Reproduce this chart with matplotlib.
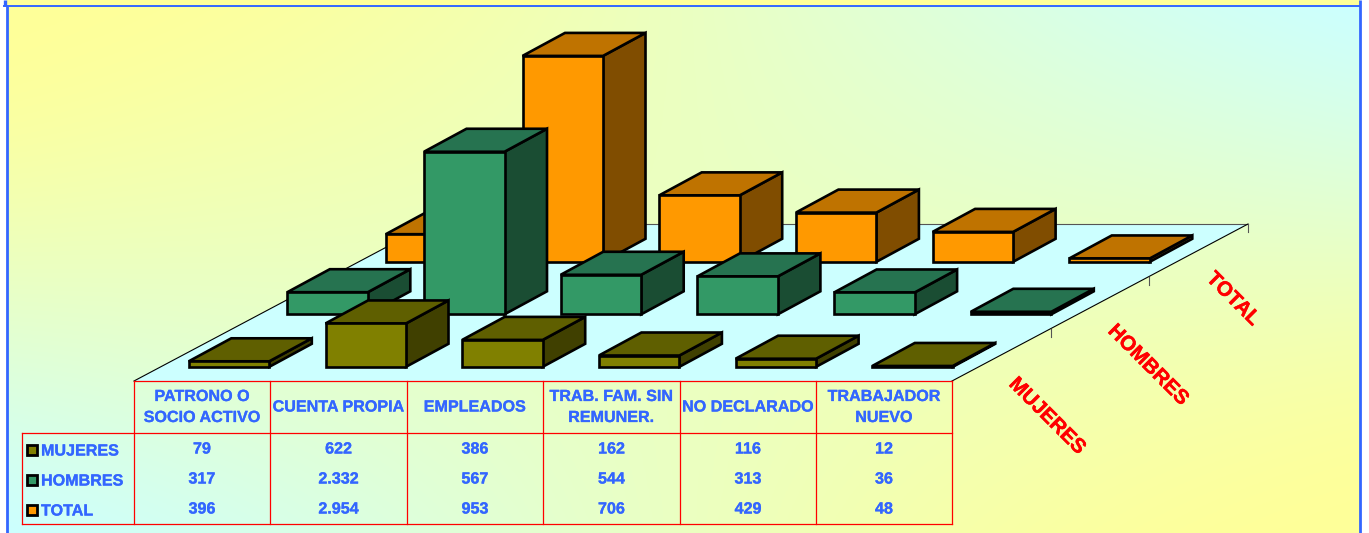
import numpy as np
from matplotlib import pyplot as plt
from matplotlib.patches import Polygon, Rectangle
import matplotlib.patheffects as pe
import matplotlib as mpl
mpl.rc('font', family='Liberation Sans', weight='bold')

# -------------------------
# data
# -------------------------
categorias = ['PATRONO O\nSOCIO ACTIVO', 'CUENTA PROPIA', 'EMPLEADOS',
              'TRAB. FAM. SIN\nREMUNER.', 'NO DECLARADO', 'TRABAJADOR\nNUEVO']
series = ['MUJERES', 'HOMBRES', 'TOTAL']
mujeres = [79, 622, 386, 162, 116, 12]
hombres = [317, 2332, 567, 544, 313, 36]
total = [396, 2954, 953, 706, 429, 48]
valores = [mujeres, hombres, total]

# front, top, side
cores = [('#808000', '#5F5F00', '#404000'),
         ('#339966', '#267350', '#1A4D33'),
         ('#FF9900', '#BF7300', '#804D00')]

AZUL = '#3366FF'
W, H = 1369, 533

fig = plt.figure(figsize=(W/100, H/100), dpi=100, facecolor='white')
ax = fig.add_axes([0, 0, 1, 1])
ax.set_xlim(0, W)
ax.set_ylim(H, 0)
ax.axis('off')

# -------------------------
# background: four corner blend
# -------------------------
x0, x1 = 7, 1360
u, v = np.meshgrid(np.linspace(0, 1, 400), np.linspace(0, 1, 300))
t = u*(1-v) + v*(1-u)
t = 0.5*t**1.8 + 0.5*t*t*(3-2*t)
amarelo = np.array([255, 255, 153])/255
ciano = np.array([204, 255, 255])/255
img = amarelo + (ciano-amarelo)*t[..., None]
ax.imshow(img, extent=(x0, x1, H, 6), aspect='auto', zorder=0)
ax.add_patch(Rectangle((x0, 0), x1-x0, 5, fc='#FFFF99', ec='none', zorder=1))
ax.plot([x0, x0], [6, H], color=AZUL, lw=2, zorder=6, solid_capstyle='butt')
ax.plot([x1, x1], [0, H], color=AZUL, lw=2, zorder=6, solid_capstyle='butt')
ax.plot([5, 5], [0, 6], color=AZUL, lw=2.4, zorder=6, solid_capstyle='butt')
ax.plot([4, x1], [5.5, 5.5], color=AZUL, lw=1.4, zorder=6)
ax.set_xlim(0, W)
ax.set_ylim(H, 0)

# -------------------------
# floor
# -------------------------
ax.add_patch(Polygon([(134, 381), (952, 381), (1248, 224), (430, 224)],
                     fc='#CCFFFF', ec='none', zorder=2))
ax.plot([134, 430], [381, 224], color='black', lw=0.8, zorder=2)
ax.plot([430, 1248], [224, 224], color='#555555', lw=0.8, zorder=2)
ax.plot([952, 1248], [381, 224], color='black', lw=0.8, zorder=2)
for xt, yt in [(1051, 329), (1149, 277), (1248, 224)]:
    ax.plot([xt, xt], [yt, yt+8], color='#555555', lw=0.8, zorder=2)

# -------------------------
# bars
# -------------------------
largura = 80.5
dx, dy = 42.5, -23
escala = 0.0697
z = 3
for fila in [2, 1, 0]:
    for col, val in enumerate(valores[fila]):
        xa = 188.8 + 136.7*col + 98.5*fila
        yb = 366.8 - 52.5*fila
        h = val*escala
        xb = xa + largura
        yt = yb - h
        frente, topo, lado = cores[fila]
        estilo = dict(ec='black', lw=1.9, joinstyle='miter', zorder=z)
        ax.add_patch(Polygon([(xb, yb), (xb+dx, yb+dy), (xb+dx, yt+dy), (xb, yt)], fc=lado, **estilo))
        ax.add_patch(Polygon([(xa, yt), (xb, yt), (xb+dx, yt+dy), (xa+dx, yt+dy)], fc=topo, **estilo))
        ax.add_patch(Polygon([(xa, yb), (xb, yb), (xb, yt), (xa, yt)], fc=frente, **estilo))
        z += 1

# -------------------------
# data table
# -------------------------
xs = [134, 270, 407, 543, 680, 816, 952]
VERM = '#FF0000'
lw = 0.9
for xv in xs:
    ax.plot([xv, xv], [381, 524], color=VERM, lw=lw, zorder=30)
ax.plot([134, 952], [381, 381], color=VERM, lw=lw, zorder=30)
ax.plot([22, 952], [433, 433], color=VERM, lw=lw, zorder=30)
ax.plot([22, 952], [524, 524], color=VERM, lw=lw, zorder=30)
ax.plot([22, 22], [433, 524], color=VERM, lw=lw, zorder=30)

fs = 11.6
grosso = [pe.withStroke(linewidth=0.2, foreground=AZUL)]
for i, cat in enumerate(categorias):
    xc = (xs[i]+xs[i+1])/2
    ax.text(xc, 407, cat, ha='center', va='center', color=AZUL, fontsize=fs,
            linespacing=1.5, zorder=31, path_effects=grosso)
    for fila, yc in zip(range(3), [449, 479, 509]):
        txt = f"{valores[fila][i]:,}".replace(',', '.')
        ax.text(xc, yc, txt, ha='center', va='center', color=AZUL, fontsize=fs, zorder=31,
                path_effects=grosso)

for fila, yc in zip(range(3), [450, 480, 510]):
    ax.add_patch(Rectangle((27, yc-5), 10, 10, fc=cores[fila][0], ec='black', lw=2, zorder=31))
    ax.text(41, yc+1, series[fila], ha='left', va='center', color=AZUL, fontsize=fs, zorder=31,
            path_effects=grosso)

# -------------------------
# depth axis labels
# -------------------------
grosso_v = [pe.withStroke(linewidth=0.3, foreground=VERM)]
for nome, xl, yl in zip(series, [1047, 1148, 1233], [416, 365, 299]):
    ax.text(xl, yl, nome, rotation=-45, rotation_mode='anchor', ha='center', va='center',
            color=VERM, fontsize=14.8, zorder=31, path_effects=grosso_v)

fig.savefig('out.png', dpi=100)
